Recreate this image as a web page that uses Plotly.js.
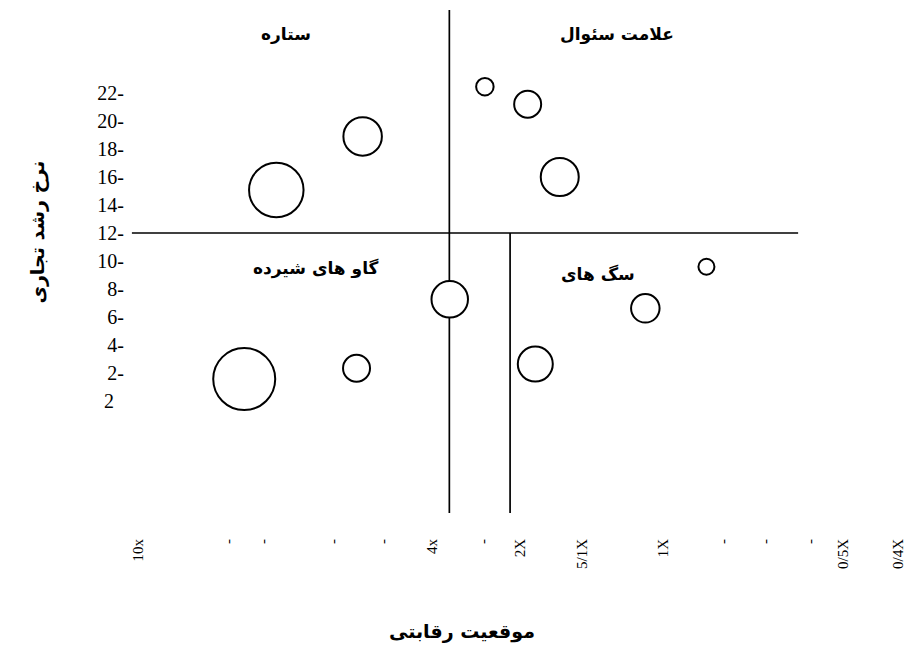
<!DOCTYPE html>
<html>
<head>
<meta charset="utf-8">
<script src="https://cdn.plot.ly/plotly-3.0.1.min.js"></script>
<style>html,body{margin:0;padding:0;background:#fff}#chart{width:908px;height:645px}</style>
</head>
<body>
<div id="chart"></div>
<script>
// x positions are on an arbitrary 0-100 scale (10x = 0, 0/4X ~ 100)
var xTickVals = [0, 11.8, 16.4, 25.5, 32.1, 38.5, 45.2, 50.0, 58.1, 68.7, 76.6, 82.1, 88.0, 92.3, 99.5];
var xTickText = ["10x", "-", "-", "-", "-", "4x", "-", "2X", "5/1X", "1X", "-", "-", "-", "0/5X", "0/4X"];
var yTickVals = [0, 2, 4, 6, 8, 10, 12, 14, 16, 18, 20, 22];
var yTickText = ["2\u00a0\u00a0", "2-", "4-", "6-", "8-", "10-", "12-", "14-", "16-", "18-", "20-", "22-"];

var bubbleX = [45.4, 51.0, 55.2, 29.4, 18.1, 40.8, 66.4, 74.4, 52.0, 28.6, 13.9];
var bubbleY = [22.45, 21.2, 16.0, 18.9, 15.07, 7.26, 6.62, 9.59, 2.64, 2.34, 1.57];
var bubbleSize = [17.5, 27, 38, 38.5, 54.5, 36.5, 28.5, 16, 35, 27, 62];

var xRange = [-1.05, 100.52];
var yRange = [-8.0, 27.93];
var hLineY = 12, hLineX = [-0.8, 86.4];
var vLine1X = 40.75;
var vLine2X = 48.7;

var quadLabels = ["ستاره", "علامت سئوال", "گاو های شیرده", "سگ های"];
var quadX = [19.4, 62.7, 23.3, 60.2];
var quadY = [26.2, 26.2, 9.43, 9.07];

var xTitle = "موقعیت رقابتی";
var yTitle = "نرخ رشد تجاری";

var arFont = "DejaVu Sans, Noto Sans, sans-serif";
var serif = "Liberation Serif, Times New Roman, serif";

var annotations = quadLabels.map(function (t, i) {
  return {x: quadX[i], y: quadY[i], xref: 'x', yref: 'y', text: '<b>' + t + '</b>',
    showarrow: false, font: {family: arFont, size: 17, color: '#000'}};
});
annotations.push({x: 0.428, y: -0.2346, xref: 'paper', yref: 'paper', text: '<b>' + xTitle + '</b>',
  showarrow: false, yanchor: 'middle', font: {family: arFont, size: 19, color: '#000'}});
annotations.push({x: -0.1366, y: 0.5586, xref: 'paper', yref: 'paper', text: '<b>' + yTitle + '</b>',
  showarrow: false, textangle: -90, font: {family: arFont, size: 19, color: '#000'}});

var lineStyle = {color: '#000', width: 1.7};
var shapes = [
  {type: 'line', xref: 'x', yref: 'y', x0: hLineX[0], x1: hLineX[1], y0: hLineY, y1: hLineY, line: lineStyle, layer: 'below'},
  {type: 'line', xref: 'x', yref: 'y', x0: vLine1X, x1: vLine1X, y0: yRange[0], y1: yRange[1], line: lineStyle, layer: 'below'},
  {type: 'line', xref: 'x', yref: 'y', x0: vLine2X, x1: vLine2X, y0: yRange[0], y1: hLineY, line: lineStyle, layer: 'below'}
];

var trace = {
  type: 'scatter', mode: 'markers', x: bubbleX, y: bubbleY,
  marker: {size: bubbleSize, sizemode: 'diameter', color: '#fff', opacity: 1,
    line: {color: '#000', width: 2}},
  hoverinfo: 'none', cliponaxis: false
};

var layout = {
  width: 908, height: 645,
  margin: {l: 130, r: 2, t: 10, b: 132},
  paper_bgcolor: '#fff', plot_bgcolor: '#fff',
  showlegend: false,
  xaxis: {range: xRange, tickmode: 'array', tickvals: xTickVals, ticktext: xTickText,
    tickangle: -90, ticks: '', showgrid: false, zeroline: false, showline: false,
    ticklabelstandoff: 22, ticklabeloverflow: 'allow',
    tickfont: {family: serif, size: 15, color: '#000'}, fixedrange: true},
  yaxis: {range: yRange, tickmode: 'array', tickvals: yTickVals, ticktext: yTickText,
    ticks: '', showgrid: false, zeroline: false, showline: false,
    ticklabelstandoff: 5, tickfont: {family: serif, size: 20, color: '#000'}, fixedrange: true},
  shapes: shapes,
  annotations: annotations
};

Plotly.newPlot('chart', [trace], layout, {displayModeBar: false, staticPlot: true});
</script>
</body>
</html>
